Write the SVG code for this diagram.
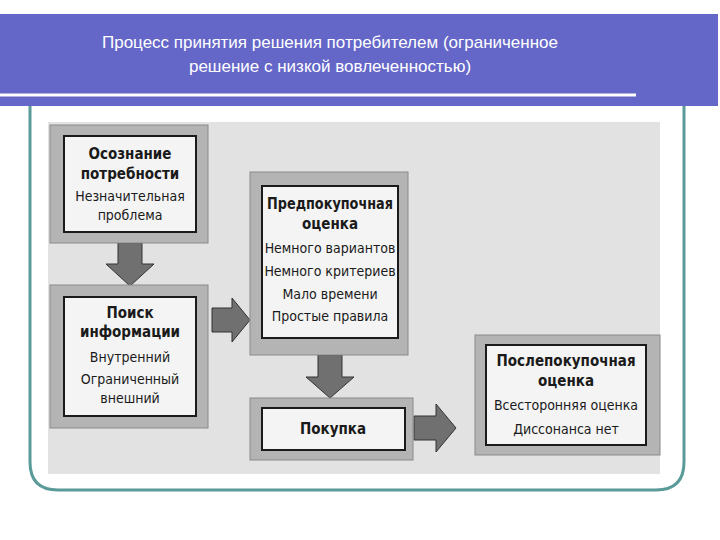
<svg xmlns="http://www.w3.org/2000/svg" width="720" height="540" viewBox="0 0 720 540">
<style>
.outer{fill:#b4b4b4;stroke:#8a8a8a;stroke-width:1}
.inner{fill:#f4f4f4;stroke:#1a1a1a;stroke-width:2}
.h{font-family:"DejaVu Sans Condensed","Liberation Sans",sans-serif;font-weight:bold;font-size:15px;fill:#1a1a1a;text-anchor:middle}
.t{font-family:"DejaVu Sans Condensed","Liberation Sans",sans-serif;font-size:14px;fill:#1a1a1a;text-anchor:middle}
.arr{fill:#707070;stroke:#333;stroke-width:1}
</style>
<rect width="720" height="540" fill="#fff"/>
<rect x="0" y="14" width="718" height="92" fill="#6466c8"/>
<line x1="0" y1="95" x2="636" y2="95" stroke="#fff" stroke-width="3"/>
<text x="330" y="48" font-family="Liberation Sans,sans-serif" font-size="17" fill="#fff" text-anchor="middle">Процесс принятия решения потребителем (ограниченное</text>
<text x="330" y="72" font-family="Liberation Sans,sans-serif" font-size="17" fill="#fff" text-anchor="middle">решение с низкой вовлеченностью)</text>
<path d="M30 106 V462 Q30 490 58 490 H656 Q684 490 684 462 V106" fill="none" stroke="#5a9a98" stroke-width="3"/>
<rect x="48" y="122" width="612" height="352" fill="#e2e2e2"/>
<g id="connectors">
<polygon class="arr" points="118,243 142,243 142,264 154,264 130,286 106,264 118,264"/>
<polygon class="arr" points="212,308 232,308 232,298 250,320 232,342 232,332 212,332"/>
<polygon class="arr" points="318,355 342,355 342,377 354,377 330,398 306,377 318,377"/>
<polygon class="arr" points="414,416 436,416 436,404 456,428 436,452 436,440 414,440"/>
</g>
<g id="n1"><rect class="outer" x="50" y="125" width="158" height="118"/><rect class="inner" x="64" y="136" width="132" height="96"/>
<text class="h" x="130" y="159">Осознание</text><text class="h" x="130" y="179">потребности</text>
<text class="t" x="130" y="201">Незначительная</text><text class="t" x="130" y="220">проблема</text></g>
<g id="n2"><rect class="outer" x="50" y="285" width="158" height="143"/><rect class="inner" x="64" y="297" width="132" height="119"/>
<text class="h" x="130" y="318">Поиск</text><text class="h" x="130" y="337">информации</text>
<text class="t" x="130" y="362">Внутренний</text><text class="t" x="130" y="384">Ограниченный</text><text class="t" x="130" y="403">внешний</text></g>
<g id="n3"><rect class="outer" x="250" y="172" width="158" height="183"/><rect class="inner" x="262" y="186" width="136" height="152"/>
<text class="h" x="330" y="209" textLength="126" lengthAdjust="spacingAndGlyphs">Предпокупочная</text><text class="h" x="330" y="229">оценка</text>
<text class="t" x="330" y="253">Немного вариантов</text><text class="t" x="330" y="276">Немного критериев</text>
<text class="t" x="330" y="299">Мало времени</text><text class="t" x="330" y="321">Простые правила</text></g>
<g id="n4"><rect class="outer" x="250" y="398" width="163" height="62"/><rect class="inner" x="262" y="408" width="143" height="42"/>
<text class="h" x="333" y="434">Покупка</text></g>
<g id="n5"><rect class="outer" x="475" y="335" width="185" height="120"/><rect class="inner" x="486" y="345" width="160" height="100"/>
<text class="h" x="566" y="366">Послепокупочная</text><text class="h" x="566" y="386">оценка</text>
<text class="t" x="566" y="410">Всесторонняя оценка</text><text class="t" x="566" y="434">Диссонанса нет</text></g>
</svg>
